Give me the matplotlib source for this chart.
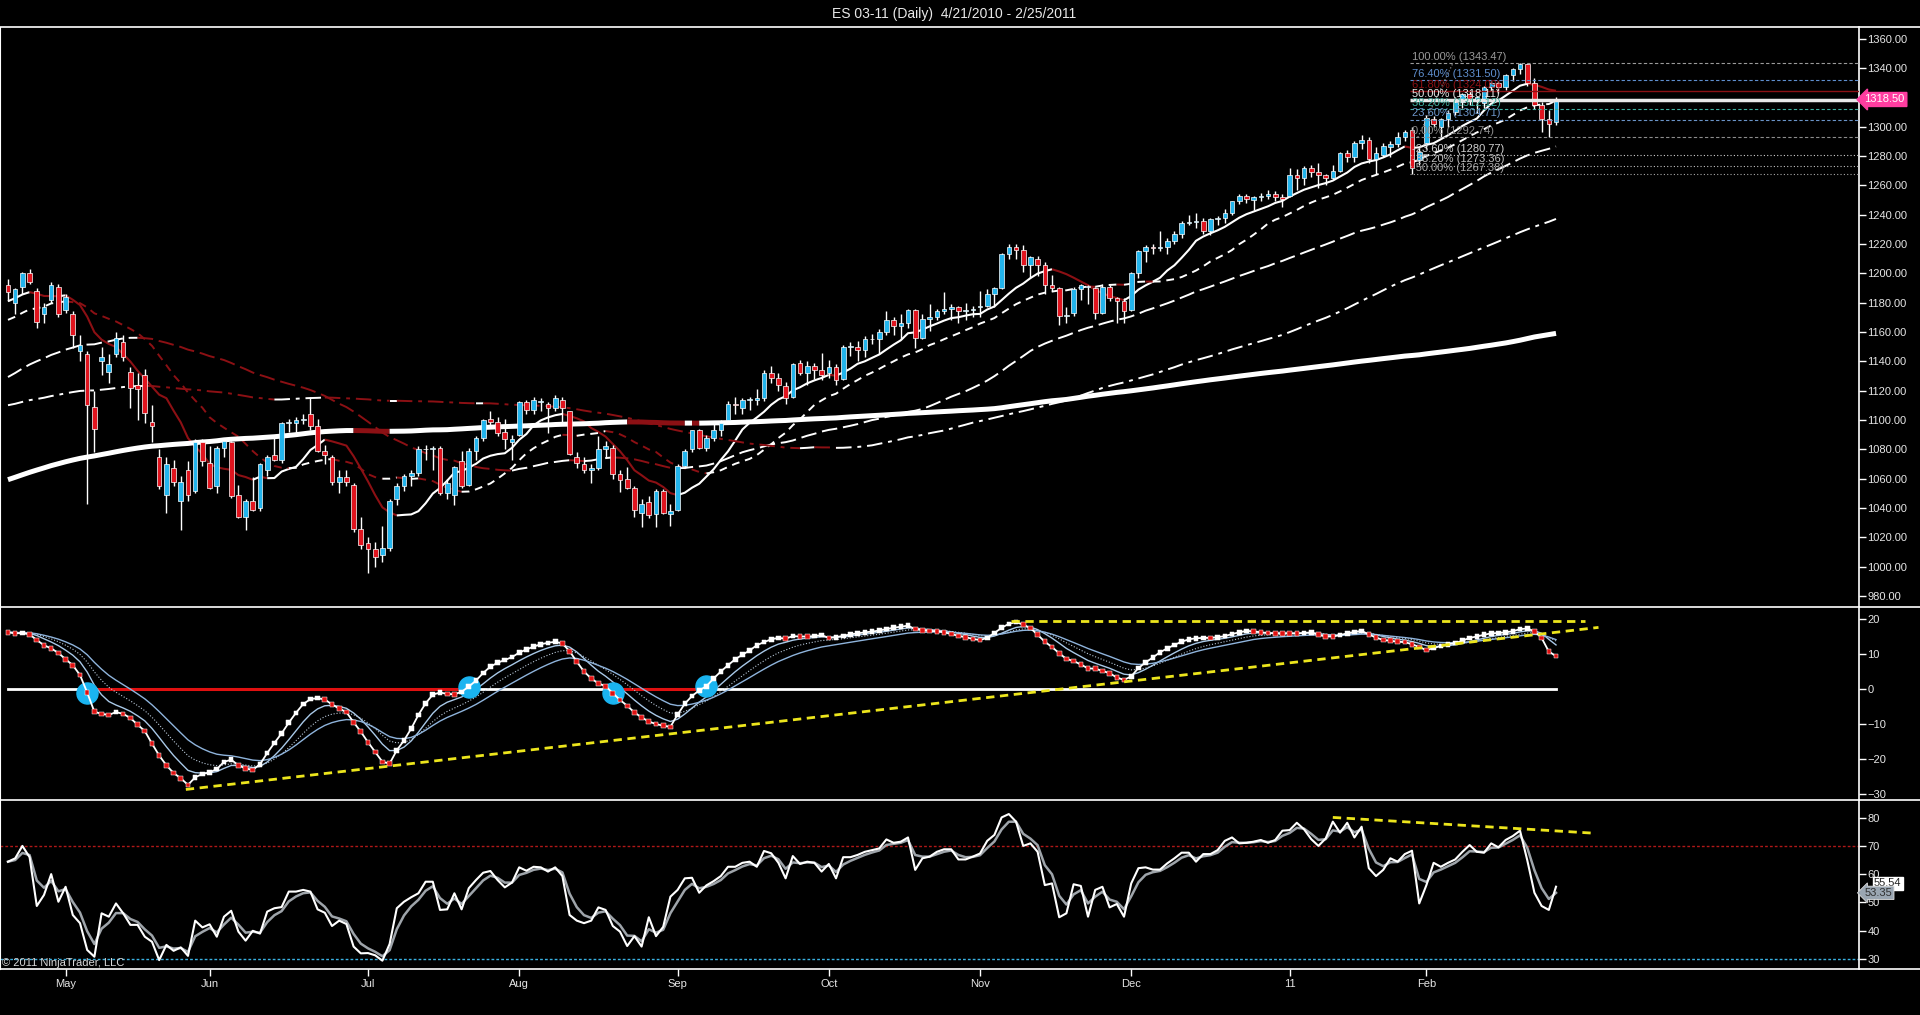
import matplotlib
matplotlib.use('Agg')
import matplotlib.pyplot as plt
import matplotlib.transforms as mtransforms
from matplotlib.lines import Line2D
import numpy as np
import pandas as pd

plt.rcParams['font.family'] = ['Liberation Sans', 'DejaVu Sans']

# ---- daily bars ES 03-11, 4/21/2010 - 2/25/2011 ----
opens = [1192, 1180, 1191, 1200, 1188, 1172, 1182, 1191, 1175, 1172,
         1147, 1145, 1109, 1140, 1133, 1145, 1153, 1133, 1124, 1131,
         1099, 1075, 1049, 1067, 1045, 1066, 1052, 1085, 1071, 1055,
         1081, 1085, 1049, 1034, 1045, 1040, 1066, 1076, 1073, 1098,
         1098, 1100, 1104, 1096, 1079, 1075, 1058, 1061, 1056, 1026,
         1016, 1012, 1008, 1013, 1046, 1055, 1062, 1064, 1080, 1080,
         1081, 1050, 1049, 1072, 1056, 1079, 1088, 1101, 1099, 1092,
         1085, 1090, 1112, 1107, 1112, 1111, 1108, 1114, 1106, 1075,
         1070, 1066, 1067, 1080, 1081, 1063, 1060, 1054, 1037, 1044,
         1036, 1052, 1036, 1039, 1069, 1080, 1093, 1081, 1088, 1093,
         1100, 1111, 1108, 1114, 1114, 1115, 1132, 1129, 1123, 1116,
         1139, 1132, 1137, 1134, 1132, 1136, 1128, 1150, 1150, 1148,
         1155, 1155, 1160, 1168, 1164, 1166, 1175, 1156, 1169, 1170,
         1174, 1176, 1177, 1174, 1175, 1177, 1178, 1186, 1190, 1213,
         1218, 1216, 1206, 1210, 1206, 1192, 1190, 1171, 1173, 1189,
         1191, 1190, 1173, 1191, 1183, 1181, 1175, 1200, 1215, 1218,
         1217, 1218, 1222, 1227, 1234, 1235, 1236, 1229, 1237, 1238,
         1241, 1249, 1253, 1250, 1252, 1253, 1254, 1252, 1253, 1267,
         1265, 1272, 1269, 1267, 1265, 1270, 1282, 1279, 1289, 1291,
         1278, 1281, 1286, 1288, 1293, 1298, 1277, 1289, 1305, 1300,
         1305, 1310, 1317, 1322, 1319, 1316, 1327, 1330, 1327, 1335,
         1339, 1342.5, 1330, 1315, 1305, 1303]
highs = [1196, 1190, 1201, 1203, 1190, 1180, 1194, 1193, 1186, 1174,
         1158, 1147, 1120, 1150, 1145, 1160, 1158, 1136, 1132, 1135,
         1110, 1080, 1075, 1073, 1062, 1072, 1087, 1087, 1082, 1082,
         1088, 1086, 1056, 1046, 1061, 1071, 1076, 1089, 1099, 1101,
         1102, 1104, 1116, 1101, 1083, 1076, 1066, 1066, 1057, 1034,
         1020, 1017, 1028, 1046, 1057, 1063, 1066, 1082, 1083, 1082,
         1082, 1060, 1069, 1079, 1081, 1089, 1101, 1106, 1102, 1101,
         1090, 1113, 1114, 1116, 1115, 1112, 1117, 1116, 1106, 1078,
         1075, 1070, 1089, 1086, 1083, 1066, 1068, 1055, 1046, 1048,
         1053, 1053, 1043, 1070, 1080, 1093, 1094, 1090, 1099, 1100,
         1113, 1116, 1115, 1116, 1121, 1134, 1137, 1132, 1126, 1139,
         1141, 1140, 1139, 1146, 1141, 1138, 1151, 1153, 1154, 1157,
         1159, 1162, 1174, 1170, 1172, 1176, 1176, 1172, 1179, 1176,
         1187, 1179, 1178, 1180, 1178, 1188, 1189, 1191, 1214, 1220,
         1220, 1219, 1212, 1212, 1208, 1199, 1191, 1177, 1191, 1193,
         1192, 1191, 1193, 1192, 1184, 1183, 1201, 1216, 1219, 1220,
         1229, 1224, 1229, 1236, 1240, 1241, 1238, 1238, 1239, 1244,
         1249, 1254, 1254, 1253, 1255, 1257, 1256, 1254, 1272, 1271,
         1273, 1274, 1275, 1268, 1274, 1283, 1284, 1290, 1294, 1293,
         1286, 1289, 1290, 1296, 1298, 1300, 1286, 1308, 1307, 1306,
         1311, 1320, 1323, 1324, 1321, 1328, 1331, 1331, 1336, 1340,
         1343.47, 1343, 1333, 1317, 1311, 1320]
lows = [1181, 1172, 1186, 1193, 1163, 1166, 1180, 1170, 1173, 1149,
        1140, 1043, 1078, 1131, 1125, 1143, 1140, 1108, 1100, 1098,
        1085, 1053, 1037, 1055, 1025, 1045, 1050, 1069, 1053, 1050,
        1075, 1047, 1033, 1025, 1038, 1038, 1062, 1072, 1071, 1092,
        1090, 1097, 1093, 1078, 1070, 1056, 1050, 1055, 1024, 1012,
        996, 1000, 1003, 1011, 1042, 1052, 1055, 1062, 1073, 1066,
        1049, 1046, 1042, 1054, 1055, 1073, 1086, 1096, 1089, 1080,
        1073, 1089, 1104, 1104, 1106, 1091, 1106, 1097, 1076, 1067,
        1064, 1057, 1066, 1075, 1060, 1051, 1053, 1034, 1027, 1033,
        1027, 1036, 1028, 1038, 1067, 1078, 1080, 1079, 1086, 1089,
        1099, 1104, 1104, 1107, 1110, 1113, 1125, 1120, 1111, 1115,
        1131, 1124, 1128, 1127, 1129, 1124, 1127, 1144, 1140, 1143,
        1152, 1145, 1158, 1158, 1155, 1163, 1149, 1155, 1161, 1168,
        1172, 1168, 1166, 1168, 1170, 1170, 1177, 1177, 1189, 1210,
        1210, 1201, 1197, 1198, 1186, 1188, 1165, 1166, 1171, 1182,
        1179, 1169, 1172, 1181, 1166, 1166, 1174, 1197, 1208, 1213,
        1215, 1213, 1220, 1224, 1233, 1231, 1227, 1226, 1233, 1234,
        1240, 1247, 1248, 1243, 1249, 1251, 1249, 1245, 1252, 1257,
        1260, 1266, 1258, 1260, 1264, 1269, 1276, 1276, 1285, 1275,
        1268, 1279, 1279, 1286, 1290, 1268, 1274, 1285, 1300, 1292,
        1300, 1308, 1313, 1315, 1309, 1313, 1325, 1323, 1325, 1331,
        1336, 1328, 1312, 1296, 1292.74, 1301]
closes = [1187, 1189, 1200, 1194, 1167, 1177, 1192, 1172, 1184, 1158,
          1151, 1110, 1094, 1143, 1138, 1156, 1143, 1122, 1121, 1105,
          1096, 1055, 1070, 1058, 1058, 1049, 1085, 1072, 1054, 1081,
          1086, 1048, 1034, 1045, 1039, 1070, 1075, 1073, 1098, 1099,
          1100, 1101, 1096, 1079, 1076, 1058, 1061, 1058, 1026, 1015,
          1012, 1007, 1013, 1045, 1055, 1062, 1064, 1080, 1080, 1081,
          1050, 1057, 1068, 1055, 1079, 1088, 1100, 1099, 1091, 1087,
          1087, 1112, 1107, 1114, 1113, 1108, 1115, 1108, 1077, 1071,
          1066, 1067, 1080, 1082, 1063, 1059, 1054, 1039, 1043, 1035,
          1052, 1037, 1038, 1069, 1079, 1093, 1081, 1088, 1093, 1098,
          1111, 1110, 1114, 1114.5, 1115, 1132, 1129, 1124, 1115, 1138,
          1132, 1137, 1134, 1131, 1136, 1127, 1150, 1150.5, 1148, 1155,
          1155.5, 1160, 1168, 1164, 1166, 1175, 1156, 1169, 1170, 1174,
          1176, 1177, 1174, 1175, 1175.5, 1177, 1186, 1190, 1213, 1218,
          1216, 1206, 1211, 1206, 1192, 1190, 1171, 1171.5, 1189, 1192,
          1191, 1173, 1191, 1183, 1181, 1174, 1200, 1215, 1218, 1217,
          1218, 1222, 1227, 1234, 1235, 1236, 1229, 1237, 1238, 1241,
          1249, 1253, 1251, 1252, 1253, 1254, 1252, 1251, 1267, 1265,
          1272, 1269, 1267, 1265, 1270, 1282, 1279, 1289, 1291, 1278,
          1282, 1287, 1288, 1293, 1296, 1272, 1283, 1306, 1302, 1305,
          1309, 1317, 1322, 1319, 1320, 1327, 1330, 1327, 1335, 1339,
          1343, 1330, 1315, 1305, 1302, 1318.5]

# closes before the visible window (Jul 2009 - Apr 2010), only used to seed the averages
close_before = [860, 858, 862, 858, 880, 884, 911, 919, 919, 930, 933, 933, 955, 958, 961, 958, 954, 965, 966,
                981, 985, 981, 976, 989, 986, 973, 985, 991, 984, 958, 969, 975, 986, 1005, 1005, 1007, 1008, 1010, 1008, 1000,
                977, 974, 982, 995, 1004, 1012, 1024, 1022, 1028, 1032, 1047, 1045, 1047, 1043, 1051, 1040, 1030, 1023, 1042, 1040, 1036,
                1008, 1004, 1019, 1033, 1036, 1045, 1050, 1055, 1052, 1071, 1075, 1066, 1077, 1070, 1060, 1072, 1059, 1045, 1042, 1022, 1046, 1015,
                1022, 1025, 1026, 1046, 1049, 1073, 1073, 1079, 1068, 1074, 1090, 1090, 1090, 1074, 1071, 1086, 1085, 1090, 1071, 1076,
                1089, 1090, 1079, 1085, 1084, 1072, 1075, 1082, 1086, 1094, 1088, 1090, 1077, 1082, 1094, 1098, 1100, 1106, 1107, 1106, 1106, 1095,
                1113, 1116, 1117, 1121, 1125, 1127, 1116, 1126, 1128, 1116, 1130, 1118, 1096, 1072, 1077, 1072, 1077, 1064, 1054,
                1070, 1084, 1078, 1043, 1046, 1037, 1051, 1048, 1058, 1055, 1075, 1079, 1086, 1089, 1088, 1075, 1086, 1083, 1085,
                1096, 1099, 1099, 1102, 1119, 1119, 1121, 1126, 1130, 1130, 1130, 1140, 1146, 1146, 1140, 1146, 1154, 1147, 1146, 1147, 1153, 1153, 1149,
                1159, 1168, 1170, 1164, 1168, 1175, 1178, 1178, 1192, 1193, 1173, 1178, 1188]

# middle panel oscillator
osc = [16.2, 15.9, 16.0, 15.6, 14.0, 12.5, 11.6, 10.3, 8.5, 6.8,
       4.0, -1.0, -6.5, -7.1, -7.4, -6.6, -7.1, -8.3, -10.2, -12.0,
       -15.6, -19.0, -21.8, -24.0, -25.5, -27.4, -25.2, -24.3, -23.8, -22.9,
       -20.8, -20.2, -21.8, -22.7, -23.1, -21.5, -18.3, -15.4, -12.7, -9.6,
       -6.8, -4.3, -2.9, -2.6, -3.0, -4.4, -5.6, -6.6, -9.5, -12.2,
       -15.2, -18.0, -20.8, -21.3, -17.5, -14.7, -11.3, -7.4, -4.1, -1.6,
       -1.0, -1.4, -1.5, -0.8, 0.7, 2.4, 4.6, 6.4, 7.5, 8.3,
       9.1, 10.4, 11.3, 12.1, 12.8, 13.2, 13.5, 13.0, 10.8, 7.8,
       5.0, 3.0, 1.6, 0.8, -1.2, -3.1, -4.8, -6.7, -8.1, -9.3,
       -10.0, -10.5, -10.8, -7.3, -4.2, -2.0, -0.4, 0.8, 3.0, 5.0,
       6.8, 8.5, 9.8, 11.0, 12.5, 13.4, 14.2, 14.6, 14.4, 15.1,
       15.0, 15.0, 15.1, 15.4, 14.6, 14.8, 15.2, 15.6, 15.9, 16.2,
       16.4, 16.7, 17.1, 17.5, 17.8, 18.1, 17.1, 16.8, 16.6, 16.5,
       16.2, 15.7, 15.2, 14.8, 14.3, 14.0, 14.6, 16.0, 17.5, 18.6,
       19.1, 18.4, 17.4, 15.5, 13.5, 12.0, 10.2, 8.6, 8.0, 7.0,
       5.9, 5.8, 5.2, 4.5, 3.3, 2.6, 3.6, 6.0, 7.6, 9.0,
       10.5, 11.6, 12.6, 13.5, 14.2, 14.5, 14.6, 14.6, 14.8, 15.1,
       15.7, 16.2, 16.6, 16.5, 16.2, 16.0, 15.9, 15.9, 15.9, 15.9,
       16.0, 16.2, 15.5, 15.0, 15.0, 15.4, 15.9, 16.3, 16.6, 15.6,
       14.7, 14.0, 13.8, 13.5, 13.4, 12.8, 12.0, 11.1, 11.7, 12.3,
       12.8, 13.1, 13.8, 14.6, 15.0, 15.5, 15.9, 16.0, 16.2, 16.5,
       17.1, 17.3, 16.5, 14.6, 10.7, 9.4]
cross_bars = [11, 64, 84, 97]

# bottom panel RSI
rsi = [64.4, 65.6, 70, 66, 48.7, 52.6, 60, 50.2, 55.5, 45.5,
       42.6, 33.1, 30.7, 46.1, 44.9, 49.6, 46.1, 42, 42, 37.8,
       36, 29.5, 34.9, 32.8, 34, 31, 43.5, 41.1, 42.2, 37.8,
       44.9, 47, 39.6, 36.4, 39.9, 38.9, 46.7, 47.9, 48.3, 53.8,
       53.8, 54.4, 53.8, 47.5, 46.3, 41.6, 43.5, 42.3, 34.3, 31.9,
       32, 31.2, 29.3, 35.2, 47.9, 50.2, 51.8, 53.2, 57.3, 57.3,
       47.3, 47.5, 53.2, 47.5, 55, 57.9, 60.5, 61.1, 57.9, 55.3,
       57, 62.4, 61.2, 62.6, 62.4, 60.9, 62.4, 59.3, 45.5, 43.5,
       42.6, 43.5, 48.2, 47.3, 41.6, 39.6, 34.5, 38, 34.3, 44.7,
       38, 41.3, 52, 54.4, 58.5, 58.7, 53.4, 56, 57.5, 59.3,
       62.6, 62.6, 64, 64.4, 62.6, 68.2, 67.4, 64,
       58.5, 66.4, 63.6, 64.4, 64, 60.9, 63.6, 58.5, 66, 66,
       66.8, 67.9, 68.5, 69.1, 72.3, 71.1, 71.5, 73, 61.5, 65.6,
       66.2, 67.9, 68.8, 68.8, 65.2, 65.2, 66.2, 67.3, 71.8, 73.9,
       80.1, 81.3, 78.6, 70, 70.9, 67.9, 56.1, 56.7, 44.7, 46.1,
       56.4, 55.8, 44.9, 54.4, 55.5, 48.2, 49.4, 44.9, 56.7, 62.1,
       62.4, 61.6, 61.6, 63.8, 65.6, 67.6, 67.6, 64.4, 67.1, 67.1,
       68.5, 71.8, 73, 70.9, 71.1, 71.5, 72.1, 71.1, 72.1, 75.4,
       75.6, 78.2, 75.9, 72.4, 70, 72.6, 78.6, 74.7, 78.2, 73,
       76.8, 62.1, 59.3, 61.5, 65.6, 64.4, 67.1, 68.3, 49.6, 56.1,
       64, 62.6, 64, 65.2, 67.9, 70.3, 67.9, 67.6, 70.9, 69.5,
       72.1, 73.5, 75.4, 65, 53.4, 48.7, 47.3, 55.54]

month_bars = [8, 28, 50, 71, 93, 114, 135, 156, 178, 197]
month_labels = ['May', 'Jun', 'Jul', 'Aug', 'Sep', 'Oct', 'Nov', 'Dec', '11', 'Feb']

fib_high = 1343.47
fib_low = 1292.74
fib_pcts = [100.0, 76.4, 61.8, 50.0, 38.2, 23.6, 0.0, -23.6, -38.2, -50.0]
fib_colors = ['#9a9a9a', '#5f8fcf', '#8c1014', '#e8e8e8', '#3fb0a0', '#6b94c8', '#8c8c8c', '#d0d0d0', '#c0c0c0', '#a8a8a8']
fib_styles = [(0, (3, 2)), (0, (3, 2)), '-', '-', (0, (3, 2)), (0, (3, 2)), (0, (3, 2)), (0, (1, 2)), (0, (1, 2)), (0, (1, 2))]
fib_widths = [0.8, 0.8, 1.0, 2.5, 0.8, 0.8, 0.8, 0.8, 0.8, 0.8]

ma_periods = [10, 20, 50, 100, 200]
ma_styles = ['-', (0, (4, 3)), (0, (8, 3)), (0, (8, 3, 2, 3)), '-']
ma_widths = [1.5, 1.4, 1.4, 1.4, 3.6]

UP = '#22b4ec'
DOWN = '#e0141e'
MA_DOWN = '#8c1014'
YELLOW = '#ece51c'

W, H = 1920, 1015
xs = np.arange(len(closes))
XL = (-1.11, 257.08)


def box(x0, y0, x1, y1):
    return [x0 / W, 1 - y1 / H, (x1 - x0) / W, (y1 - y0) / H]


def style_axis(ax):
    ax.set_facecolor('black')
    ax.set_xlim(*XL)
    for s in ['top', 'bottom']:
        ax.spines[s].set_visible(False)
    ax.spines['right'].set_color('white')
    ax.spines['left'].set_color('white')
    ax.spines['right'].set_linewidth(1.2)
    ax.yaxis.tick_right()
    ax.tick_params(axis='y', colors='white', labelcolor='#e6e6e6', labelsize=8,
                   direction='out', length=5, width=1, pad=1)
    ax.tick_params(axis='x', bottom=False, labelbottom=False)


def plot_ma(ax, vals, ls, lw):
    # white while rising, dark red while falling
    up = np.diff(vals) >= 0
    start = 0
    for i in range(1, len(up) + 1):
        if i == len(up) or up[i] != up[start]:
            seg = slice(start, i + 1)
            ax.plot(xs[seg], vals[seg], color='white' if up[start] else MA_DOWN,
                    ls=ls, lw=lw, zorder=2, solid_capstyle='butt')
            start = i


fig = plt.figure(figsize=(W / 100, H / 100), dpi=100, facecolor='black')

ax1 = fig.add_axes(box(0, 27, 1859, 607))
ax2 = fig.add_axes(box(0, 607, 1859, 800))
ax3 = fig.add_axes(box(0, 800, 1859, 969))
for a in (ax1, ax2, ax3):
    style_axis(a)

# ---------- price panel ----------
ax1.set_ylim(972.6, 1367.9)
ax1.set_yticks(np.arange(980, 1361, 20))
ax1.yaxis.set_major_formatter(matplotlib.ticker.FormatStrFormatter('%.2f'))

full = pd.Series(close_before + closes, dtype=float)
nb = len(close_before)
for n, ls, lw in zip(ma_periods, ma_styles, ma_widths):
    ma = full.rolling(n).mean().values[nb:]
    plot_ma(ax1, ma, ls, lw)

o = np.array(opens, dtype=float)
c = np.array(closes, dtype=float)
ax1.vlines(xs, lows, highs, color='white', lw=1, zorder=3)
body_colors = [UP if cc >= oo else DOWN for oo, cc in zip(o, c)]
heights = np.maximum(np.abs(c - o), 0.5)
ax1.bar(xs, heights, bottom=np.minimum(o, c), width=0.64, color=body_colors,
        edgecolor='white', linewidth=0.5, zorder=4)

# fibonacci retracement
fib_start = 194.7
for p, col, ls, lw in zip(fib_pcts, fib_colors, fib_styles, fib_widths):
    v = fib_low + p / 100.0 * (fib_high - fib_low)
    ax1.hlines(v, fib_start, XL[1], color=col, ls=ls, lw=lw, zorder=5)
    ax1.text(fib_start + 0.3, v + 0.9, '%.2f%% (%.2f)' % (p, v), color=col,
             fontsize=8, va='bottom', ha='left', zorder=6)
ax1.plot([195.8, 200.7], [fib_low, fib_high], color='#8a8a8a', ls=':', lw=0.9, zorder=5)

trans1 = mtransforms.blended_transform_factory(ax1.transAxes, ax1.transData)
ax1.text(1.003, closes[-1], '%.2f' % closes[-1], transform=trans1, ha='left', va='center',
         fontsize=8, color='white', zorder=10,
         bbox=dict(boxstyle='larrow,pad=0.18', fc='#ff3da0', ec='#ff3da0'))

# ---------- oscillator panel ----------
ax2.set_ylim(-31.71, 23.43)
ax2.set_yticks([-30, -20, -10, 0, 10, 20])

ax2.plot([xs[0], xs[-1]], [0, 0], color='white', lw=2, zorder=2)
for a, b in [(cross_bars[0], cross_bars[1]), (cross_bars[2], cross_bars[3])]:
    ax2.plot([a, b], [0, 0], color='#e01010', lw=2.2, zorder=2.1)

osc_s = pd.Series(osc, dtype=float)
ax2.plot(xs, osc_s.ewm(span=5, adjust=False).mean(), color='#a9c9e8', lw=1.0, zorder=2.5)
ax2.plot(xs, osc_s.ewm(span=9, adjust=False).mean(), color='#b8c8d8', lw=0.8, ls=':', zorder=2.5)
ax2.plot(xs, osc_s.ewm(span=14, adjust=False).mean(), color='#8fb4dc', lw=1.0, zorder=2.5)

ax2.scatter(cross_bars, [osc[b] for b in cross_bars], s=230, color='#1ab4f0', zorder=3)
ax2.plot(xs, osc, color='white', lw=1.3, zorder=3.5)
mcols = ['#e01010'] + ['white' if osc[i] > osc[i - 1] else '#e01010' for i in range(1, len(osc))]
ax2.scatter(xs, osc, marker='s', s=11, c=mcols, edgecolors='white', linewidths=0.35, zorder=4)

ax2.plot([24.7, 220.9], [-28.7, 17.6], color=YELLOW, ls=(0, (3, 2)), lw=2, zorder=5)
ax2.plot([139.3, 219.0], [19.4, 19.4], color=YELLOW, ls=(0, (3, 2)), lw=2, zorder=5)

# ---------- RSI panel ----------
ax3.set_ylim(26.35, 86.28)
ax3.set_yticks([30, 40, 50, 60, 70, 80])
ax3.axhline(70, color='#b01818', ls=(0, (2, 1.5)), lw=1)
ax3.axhline(30, color='#3ab0e0', ls=(0, (2, 1.5)), lw=1)
rsi_s = pd.Series(rsi, dtype=float)
rsi_smooth = rsi_s.ewm(span=3, adjust=False).mean()
ax3.plot(xs, rsi_smooth, color='#9ea4aa', lw=1.8, zorder=2)
ax3.plot(xs, rsi, color='white', lw=1.5, zorder=3)
ax3.plot([184.0, 220.3], [80.1, 74.5], color=YELLOW, ls=(0, (3, 2)), lw=2, zorder=4)

trans3 = mtransforms.blended_transform_factory(ax3.transAxes, ax3.transData)
ax3.text(1.008, rsi[-1] + 1.2, '%.2f' % rsi[-1], transform=trans3, ha='left', va='center',
         fontsize=8, color='#202020', zorder=10,
         bbox=dict(boxstyle='square,pad=0.12', fc='white', ec='white'))
ax3.text(1.003, rsi_smooth.iloc[-1], '53.35', transform=trans3, ha='left', va='center',
         fontsize=8, color='#303030', zorder=11,
         bbox=dict(boxstyle='larrow,pad=0.15', fc='#9aa6b2', ec='#dddddd', lw=0.6))

ax3.set_xticks(month_bars)
ax3.set_xticklabels(month_labels)
ax3.tick_params(axis='x', bottom=True, labelbottom=True, colors='white', labelcolor='#e6e6e6',
                labelsize=8, direction='out', length=5, width=1, pad=2)

# panel separators across the full width
for y in [27, 607, 800, 969]:
    fig.add_artist(Line2D([0, 1], [1 - y / H, 1 - y / H], transform=fig.transFigure,
                          color='white', lw=1.2))

fig.text(954 / W, 1 - 14 / H, 'ES 03-11 (Daily)  4/21/2010 - 2/25/2011', ha='center', va='center',
         color='#e8e8e8', fontsize=10)
fig.text(2 / W, 1 - 963 / H, '\u00a9 2011 NinjaTrader, LLC', ha='left', va='center',
         color='#d8d8d8', fontsize=8)

fig.savefig('out.png', dpi=100, facecolor='black')
